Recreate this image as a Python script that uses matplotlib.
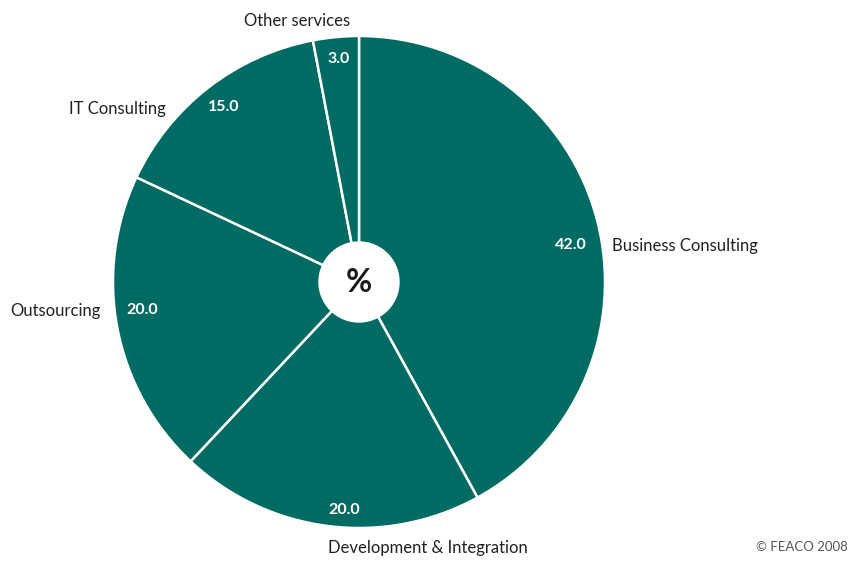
import numpy as np
import matplotlib.pyplot as plt

# service lines, clockwise from the top
services = ["Business Consulting", "Development & Integration", "Outsourcing",
            "IT Consulting", "Other services"]
shares = [42.0, 20.0, 20.0, 15.0, 3.0]

plt.rcParams["font.family"] = ["Lato", "DejaVu Sans"]

W, H = 849, 561
cx, cy, R = 359, 282, 246  # pie centre and radius in pixels

fig = plt.figure(figsize=(W / 100, H / 100), dpi=100)
ax = fig.add_axes([0, 0, 1, 1])

teal = "#006b63"
wedges, _ = ax.pie(shares, startangle=90, counterclock=False, radius=1,
                   colors=[teal] * len(shares),
                   wedgeprops=dict(edgecolor="white", linewidth=1.8))
ax.set_xlim(-cx / R, (W - cx) / R)
ax.set_ylim(-(H - cy) / R, cy / R)
ax.set_aspect("equal")
ax.axis("off")

# white hub with the unit
ax.add_patch(plt.Circle((0, 0), 40 / R, color="white", zorder=5))
ax.text(0, 0, "%", ha="center", va="center", fontsize=23, fontweight="bold",
        color="#1a1a1a", zorder=6)

# value label offsets (deg) and radius, category label placement
value_shift = [-4.5, 3.5, -3.4, -0.2, -0.3]
value_r = [0.875, 0.93, 0.89, 0.9, 0.91]
name_pos = [(1.028, 0.147, "left", "center"),
            (0.28, -1.083, "center", "center"),
            (-1.05, -0.118, "right", "center"),
            (-0.787, 0.703, "right", "center"),
            (-0.252, 1.06, "center", "center")]

for w, val, sh, r, name, (nx, ny, ha, va) in zip(wedges, shares, value_shift,
                                                   value_r, services, name_pos):
    mid = np.deg2rad((w.theta1 + w.theta2) / 2 + sh)
    ax.text(r * np.cos(mid), r * np.sin(mid), f"{val:.1f}", ha="center",
            va="center", color="white", fontsize=11.5, fontweight="bold")
    ax.text(nx, ny, name, ha=ha, va=va, fontsize=12, color="#231f20")

fig.text(0.999, 0.015, "© FEACO 2008", ha="right", va="bottom",
         fontsize=9.5, color="#555555")

fig.savefig("out.png", dpi=100)
